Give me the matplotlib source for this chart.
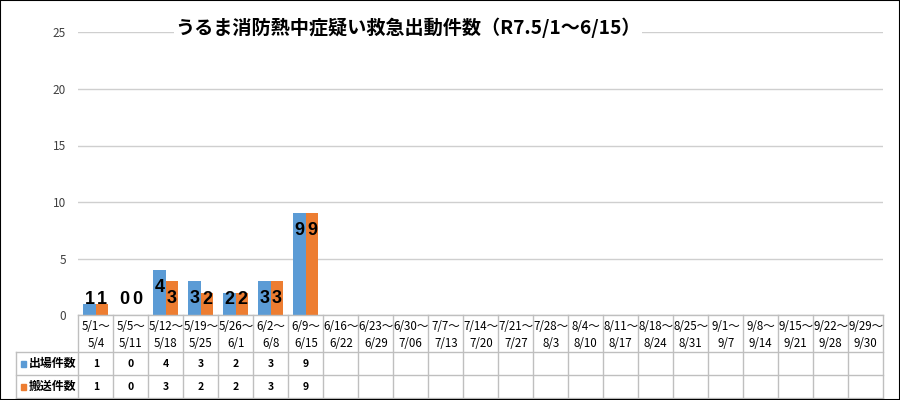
import matplotlib
matplotlib.use("Agg")
import numpy as np
import matplotlib.pyplot as plt
from matplotlib.patches import Rectangle

plt.rcParams['font.family'] = ['Noto Sans CJK JP', 'DejaVu Sans']

title = 'うるま消防熱中症疑い救急出動件数（R7.5/1〜6/15）'
week_start = ['5/1', '5/5', '5/12', '5/19', '5/26', '6/2', '6/9', '6/16', '6/23',
              '6/30', '7/7', '7/14', '7/21', '7/28', '8/4', '8/11', '8/18', '8/25',
              '9/1', '9/8', '9/15', '9/22', '9/29']
week_end = ['5/4', '5/11', '5/18', '5/25', '6/1', '6/8', '6/15', '6/22', '6/29',
            '7/06', '7/13', '7/20', '7/27', '8/3', '8/10', '8/17', '8/24', '8/31',
            '9/7', '9/14', '9/21', '9/28', '9/30']
series_names = ['出場件数', '搬送件数']
dispatch = [1, 0, 4, 3, 2, 3, 9]
transport = [1, 0, 3, 2, 2, 3, 9]
y_ticks = [0, 5, 10, 15, 20, 25]

colors = ['#5B9BD5', '#ED7D31']
grid_c = '#BFBFBF'

W, H = 900, 400
fig = plt.figure(figsize=(9, 4), dpi=100)


def box(l, t, r, b):
    return [l / W, 1 - b / H, (r - l) / W, (b - t) / H]


n = len(week_start)
x = np.arange(n)

# --- chart area
ax = fig.add_axes(box(78.3, 32.3, 883.3, 315.3))
bw = 0.36
for k, vals in enumerate([dispatch, transport]):
    xs = x[:len(vals)] + (k - 0.5) * bw
    ax.bar(xs, vals, width=bw, color=colors[k], zorder=2)
    for xi, v in zip(xs, vals):
        ax.text(xi, max(v - 1.55, 1.4), str(v), ha='center', va='center',
                fontsize=13, fontweight='bold', color='black', zorder=3,
                family=['Liberation Sans', 'DejaVu Sans'])

ax.set_xlim(-0.5, n - 0.5)
ax.set_ylim(0, 25)
ax.set_yticks(y_ticks)
ax.tick_params(axis='y', length=0, pad=9, labelsize=8.5, labelcolor='#404040')
ax.set_xticks([])
ax.grid(axis='y', color='#CFCFCF', lw=1, zorder=0)
for s in ax.spines.values():
    s.set_visible(False)

fig.text(408 / W, 1 - 28 / H, title, ha='center', va='center', fontsize=13.8,
         fontweight='bold', color='black',
         bbox=dict(facecolor='white', edgecolor='none', pad=1))

# --- data table
tax = fig.add_axes(box(15.7, 315.3, 883.3, 398))
left = -0.5 - 62.6 / 35
tax.set_xlim(left, n - 0.5)
tax.set_ylim(82.7, 0)
tax.axis('off')

rows = [0, 37, 59.7, 82.7]
for i, y in enumerate(rows):
    x0 = -0.5 if i == 0 else left
    tax.plot([x0, n - 0.5], [y, y], color=grid_c, lw=1, clip_on=False)
for k in range(n + 1):
    tax.plot([k - 0.5, k - 0.5], [0, rows[-1]], color=grid_c, lw=1, clip_on=False)
tax.plot([left, left], [rows[1], rows[-1]], color=grid_c, lw=1, clip_on=False)

for i in range(n):
    tax.text(i, 11.4, week_start[i] + '〜', ha='center', va='center', fontsize=8.3)
    tax.text(i, 28, week_end[i], ha='center', va='center', fontsize=8.3)

for r, (name, vals) in enumerate(zip(series_names, [dispatch, transport])):
    yc = (rows[r + 1] + rows[r + 2]) / 2
    tax.add_patch(Rectangle((left + 5.3 / 35, yc - 3), 5 / 35, 6,
                            color=colors[r], clip_on=False))
    tax.text(left + 13.3 / 35, yc, name, ha='left', va='center', fontsize=8.6,
             fontweight='bold')
    for i, v in enumerate(vals):
        tax.text(i, yc, str(v), ha='center', va='center', fontsize=7.5,
                 fontweight='bold')

fig.add_artist(Rectangle((0, 0), 1, 1, transform=fig.transFigure, fill=False,
                         edgecolor='black', lw=1.5))

fig.savefig('out.png', dpi=100)
